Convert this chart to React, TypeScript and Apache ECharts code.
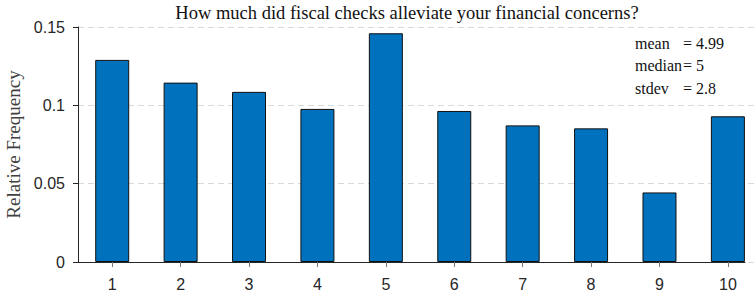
import React, { useEffect, useRef } from "react";
import * as echarts from "echarts";

const categories = [1, 2, 3, 4, 5, 6, 7, 8, 9, 10];
const frequencies = [0.129, 0.1145, 0.1086, 0.0977, 0.146, 0.0964, 0.0872, 0.0853, 0.0444, 0.093];
const yTicks = [0, 0.05, 0.1, 0.15];
const statNames = ["mean", "median", "stdev"];
const statValues = ["4.99", "5", "2.8"];
const titleText = "How much did fiscal checks alleviate your financial concerns?";
const yName = "Relative Frequency";

const SERIF = "Liberation Serif";
const SANS = "Liberation Sans";

export default function App() {
  const ref = useRef<HTMLDivElement>(null);
  useEffect(() => {
    if (!ref.current) return;
    const chart = echarts.init(ref.current, undefined, { renderer: "svg" });
    const statGraphics: any[] = [];
    statNames.forEach((n, i) => {
      statGraphics.push({
        type: "text",
        x: 635,
        y: 43 + i * 22.7,
        style: { text: n, fontFamily: SERIF, fontSize: 16, fill: "#111", verticalAlign: "middle" },
      });
      statGraphics.push({
        type: "text",
        x: 683,
        y: 43 + i * 22.7,
        style: { text: "= " + statValues[i], fontFamily: SERIF, fontSize: 16, fill: "#111", verticalAlign: "middle" },
      });
    });
    chart.setOption({
      animation: false,
      backgroundColor: "#ffffff",
      grid: [
        { left: 78, right: 9, top: 27, bottom: 32, containLabel: false, outerBoundsMode: "none" },
        { left: 78, right: 0, top: 27, bottom: 32, containLabel: false, outerBoundsMode: "none" },
      ],
      xAxis: [
        {
          type: "value",
          gridIndex: 0,
          min: 0.5,
          max: 10.25,
          interval: 0.5,
          axisLine: { show: true, lineStyle: { color: "#262626", width: 1 } },
          axisTick: { show: true, length: 5, customValues: categories, lineStyle: { color: "#777" } },
          axisLabel: {
            customValues: categories,
            margin: 14,
            fontFamily: SANS,
            fontSize: 16,
            color: "#262626",
          },
          splitLine: { show: false },
        },
        {
          type: "value",
          gridIndex: 1,
          min: 0,
          max: 1,
          show: false,
        },
      ],
      yAxis: [
        {
          type: "value",
          gridIndex: 0,
          min: yTicks[0],
          max: yTicks[yTicks.length - 1],
          interval: 0.05,
          name: yName,
          nameLocation: "middle",
          nameGap: 47,
          nameTextStyle: { fontFamily: SERIF, fontSize: 19, color: "#404040" },
          axisLine: { show: true, lineStyle: { color: "#262626", width: 1 } },
          axisTick: { show: true, length: 5, lineStyle: { color: "#262626" } },
          axisLabel: { margin: 13, fontFamily: SANS, fontSize: 16, color: "#262626" },
          splitLine: { show: false },
        },
        {
          type: "value",
          gridIndex: 1,
          min: yTicks[0],
          max: yTicks[yTicks.length - 1],
          interval: 0.05,
          axisLine: { show: false },
          axisTick: { show: false },
          axisLabel: { show: false },
          splitLine: { show: true, lineStyle: { color: "#d9d9d9", type: [6, 4], width: 1 } },
        },
      ],
      series: [
        {
          type: "bar",
          xAxisIndex: 0,
          yAxisIndex: 0,
          barWidth: 34,
          data: categories.map((c, i) => [c, frequencies[i]]),
          itemStyle: { color: "#0072BD", borderColor: "#111", borderWidth: 1 },
          z: 3,
        },
      ],
      graphic: [
        {
          type: "text",
          x: 407,
          y: 13,
          style: {
            text: titleText,
            align: "center",
            verticalAlign: "middle",
            fontFamily: SERIF,
            fontSize: 18.5,
            fill: "#111",
          },
        },
        ...statGraphics,
      ],
    });
    return () => chart.dispose();
  }, []);
  return (
    <div
      ref={ref}
      style={{ position: "absolute", left: 0, top: 0, width: 754, height: 294 }}
    />
  );
}
